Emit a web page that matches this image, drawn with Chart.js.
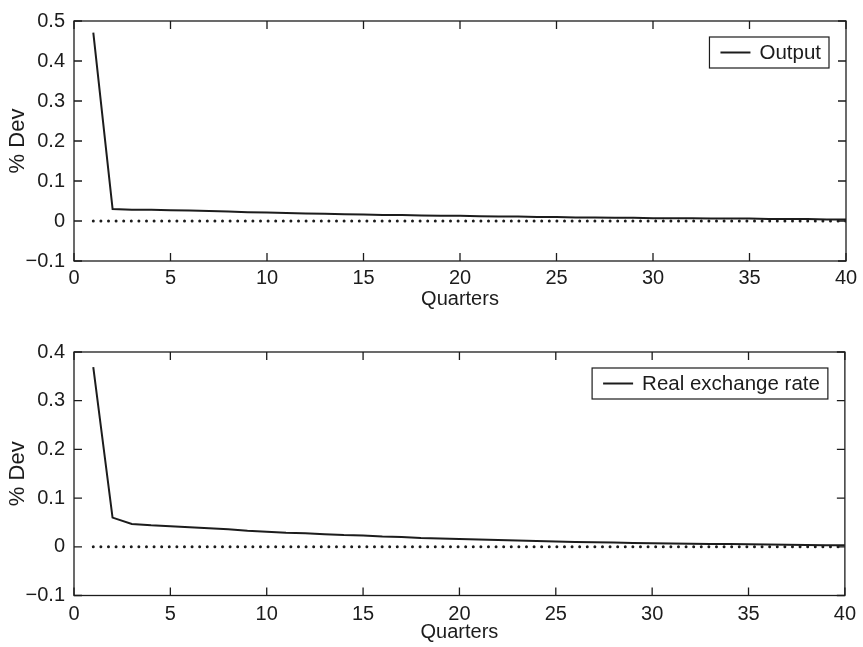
<!DOCTYPE html>
<html>
<head>
<meta charset="utf-8">
<script src="https://cdn.jsdelivr.net/npm/chart.js@4.4.0/dist/chart.umd.min.js"></script>
<style>
  html, body { margin: 0; padding: 0; background: #fff; }
  #wrap { position: relative; width: 863px; height: 647px; }
  #wrap canvas { position: absolute; left: 0; top: 0; }
</style>
</head>
<body>
<div id="wrap">
  <canvas id="chartOutput" width="863" height="647"></canvas>
  <canvas id="chartRer" width="863" height="647"></canvas>
</div>
<script>
// ===== data =====
const quarters = [1, 2, 3, 4, 5, 6, 7, 8, 9, 10, 11, 12, 13, 14, 15, 16, 17, 18, 19, 20,
  21, 22, 23, 24, 25, 26, 27, 28, 29, 30, 31, 32, 33, 34, 35, 36, 37, 38, 39, 40];

const outputDev = [0.471, 0.030, 0.028, 0.028, 0.027, 0.026, 0.025, 0.024, 0.022, 0.021,
  0.020, 0.019, 0.018, 0.017, 0.016, 0.015, 0.015, 0.014, 0.013, 0.013,
  0.012, 0.011, 0.011, 0.010, 0.010, 0.009, 0.009, 0.008, 0.008, 0.007,
  0.007, 0.007, 0.006, 0.006, 0.006, 0.005, 0.005, 0.005, 0.004, 0.004];

const rerDev = [0.369, 0.060, 0.047, 0.044, 0.042, 0.040, 0.038, 0.036, 0.033, 0.031,
  0.029, 0.028, 0.026, 0.024, 0.023, 0.021, 0.020, 0.018, 0.017, 0.016,
  0.015, 0.014, 0.013, 0.012, 0.011, 0.010, 0.0095, 0.009, 0.008, 0.0075,
  0.007, 0.0065, 0.006, 0.0055, 0.005, 0.0045, 0.004, 0.0037, 0.0033, 0.003];

const zeroLine = [0, 0, 0, 0, 0, 0, 0, 0, 0, 0, 0, 0, 0, 0, 0, 0, 0, 0, 0, 0,
  0, 0, 0, 0, 0, 0, 0, 0, 0, 0, 0, 0, 0, 0, 0, 0, 0, 0, 0, 0];

const quarterTicks = [0, 5, 10, 15, 20, 25, 30, 35, 40];
const outputTicks = [-0.1, 0, 0.1, 0.2, 0.3, 0.4, 0.5];
const rerTicks = [-0.1, 0, 0.1, 0.2, 0.3, 0.4];

const INK = '#1c1c1c';
Chart.defaults.font.family = "'Liberation Sans', Arial, Helvetica, sans-serif";
Chart.defaults.color = INK;

// ===== box, inward ticks, legend =====
const framePlugin = {
  id: 'frame',
  afterDatasetsDraw(chart) {
    const { ctx, chartArea: a, scales: { x, y } } = chart;
    const tl = 8;
    ctx.save();
    ctx.strokeStyle = INK;
    ctx.lineWidth = 1.3;
    ctx.strokeRect(a.left, a.top, a.width, a.height);
    ctx.beginPath();
    x.ticks.forEach(t => {
      const px = x.getPixelForValue(t.value);
      ctx.moveTo(px, a.bottom); ctx.lineTo(px, a.bottom - tl);
      ctx.moveTo(px, a.top); ctx.lineTo(px, a.top + tl);
    });
    y.ticks.forEach(t => {
      const py = y.getPixelForValue(t.value);
      ctx.moveTo(a.left, py); ctx.lineTo(a.left + tl, py);
      ctx.moveTo(a.right, py); ctx.lineTo(a.right - tl, py);
    });
    ctx.stroke();

    // legend
    const label = chart.data.datasets[0].label;
    ctx.font = "20.5px 'Liberation Sans', Arial, sans-serif";
    const tw = ctx.measureText(label).width;
    const h = 31;
    const w = 11 + 30 + 9 + tw + 8;
    const bx = a.right - 17 - w;
    const by = a.top + 16;
    ctx.fillStyle = '#fff';
    ctx.fillRect(bx, by, w, h);
    ctx.lineWidth = 1.2;
    ctx.strokeRect(bx, by, w, h);
    ctx.beginPath();
    ctx.lineWidth = 2;
    ctx.moveTo(bx + 11, by + h / 2);
    ctx.lineTo(bx + 41, by + h / 2);
    ctx.stroke();
    ctx.fillStyle = INK;
    ctx.textBaseline = 'middle';
    ctx.textAlign = 'left';
    ctx.fillText(label, bx + 50, by + h / 2 + 1);
    ctx.restore();
  }
};

function setTicks(list) {
  return scale => { scale.ticks = list.map(v => ({ value: v })); };
}

function fmt(v) {
  const r = Math.round(v * 10) / 10;
  return r === 0 ? '0' : String(r).replace('-', '\u2212');
}

// ===== create panel =====
function createPanel(id, label, values, yTicks, lay) {
  const ctx = document.getElementById(id);
  return new Chart(ctx, {
    type: 'line',
    data: {
      datasets: [{
        label: label,
        data: values.map((v, i) => ({ x: quarters[i], y: v })),
        borderColor: INK,
        borderWidth: 2,
        pointRadius: 0,
        tension: 0,
        fill: false
      }, {
        label: 'zero',
        data: zeroLine.map((v, i) => ({ x: quarters[i], y: v })),
        borderColor: INK,
        borderWidth: 3,
        borderDash: [0, 7.6],
        borderCapStyle: 'round',
        pointRadius: 0,
        fill: false
      }]
    },
    options: {
      responsive: false,
      animation: false,
      events: [],
      layout: { padding: { top: lay.top, bottom: lay.bottom, left: 0, right: 17 } },
      plugins: {
        legend: { display: false },
        tooltip: { enabled: false }
      },
      scales: {
        x: {
          type: 'linear',
          min: 0, max: 40,
          afterBuildTicks: setTicks(quarterTicks),
          afterFit: s => { s.height = lay.xh; },
          grid: { display: false, drawTicks: false },
          border: { display: false },
          ticks: { padding: lay.tp, font: { size: 20 }, maxRotation: 0, autoSkip: false },
          title: { display: true, text: 'Quarters', font: { size: 20 }, padding: 0 }
        },
        y: {
          min: yTicks[0], max: yTicks[yTicks.length - 1],
          afterBuildTicks: setTicks(yTicks),
          afterFit: s => { s.width = 74; },
          grid: { display: false, drawTicks: false },
          border: { display: false },
          ticks: { padding: 9, font: { size: 20 }, callback: fmt },
          title: { display: true, text: '% Dev', font: { size: 22 }, padding: { top: 5, bottom: 0 } }
        }
      }
    },
    plugins: [framePlugin]
  });
}

createPanel('chartOutput', 'Output', outputDev, outputTicks, { top: 17, bottom: 336, xh: 50, tp: 5 });
createPanel('chartRer', 'Real exchange rate', rerDev, rerTicks, { top: 352, bottom: 2.2, xh: 49.3, tp: 7 });
</script>
</body>
</html>
